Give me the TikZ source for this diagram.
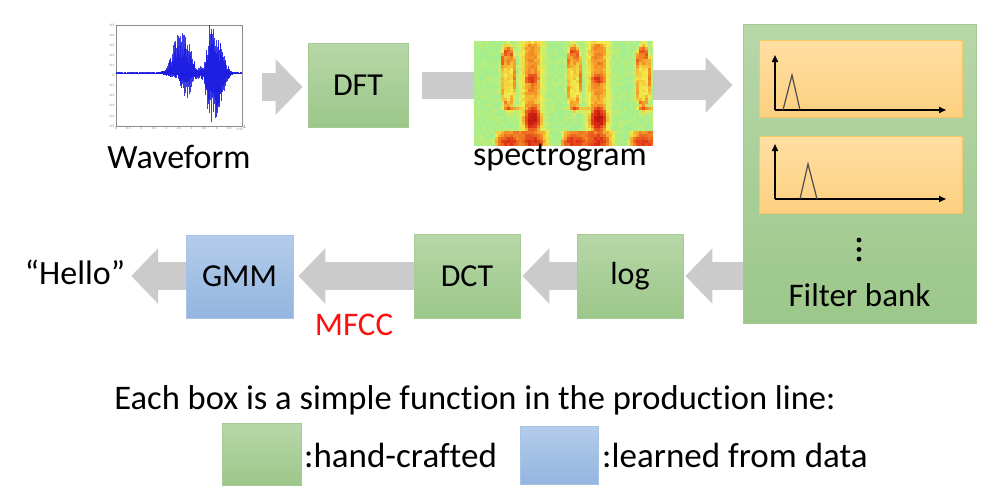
\documentclass[tikz,border=0pt]{standalone}
\usepackage{fontspec}
\setmainfont{Carlito}[Ligatures=NoCommon]
\usetikzlibrary{arrows.meta,calc}

\definecolor{boxgreenT}{HTML}{B7D7A8}
\definecolor{boxgreenB}{HTML}{9CC78A}
\definecolor{boxgreenL}{HTML}{A5CB93}
\definecolor{boxblueT}{HTML}{B4CCEA}
\definecolor{boxblueB}{HTML}{93B5DF}
\definecolor{boxblueL}{HTML}{A6C2E4}
\definecolor{orT}{HTML}{FFDEA2}
\definecolor{orB}{HTML}{FDD080}
\definecolor{orL}{HTML}{F7C766}
\definecolor{arrowgrey}{HTML}{CBCBCB}
\definecolor{wblue}{HTML}{1A1AE0}
% spectrogram colour map
\definecolor{cmA}{HTML}{A4EE8E}
\definecolor{cmB}{HTML}{F2EC4A}
\definecolor{cmC}{HTML}{F59A28}
\definecolor{cmD}{HTML}{E4401A}
\definecolor{cmE}{HTML}{BC100C}
\definecolor{mfccred}{HTML}{FF1010}

% smooth bump used for the spectral energy blobs
\pgfmathdeclarefunction{bump}{2}{%
  \begingroup\pgfmathparse{max(0,1-#1*#1-#2*#2)}\pgfmathsmuggle\pgfmathresult\endgroup}

\begin{document}
\begin{tikzpicture}[x=1pt,y=-1pt,
  lbl/.style={font=\fontsize{32}{38}\selectfont, inner sep=0pt},
  biglbl/.style={font=\fontsize{34}{40}\selectfont, inner sep=0pt},
  stage/.style={lbl, draw=boxgreenL, line width=0.8pt, top color=boxgreenT,
    bottom color=boxgreenB, minimum width=106pt, minimum height=84pt},
  learned/.style={stage, draw=boxblueL, top color=boxblueT, bottom color=boxblueB},
  filterpane/.style={draw=orL, line width=0.8pt, top color=orT, bottom color=orB,
    minimum width=203pt, minimum height=77pt, inner sep=0pt},
  barrow/.style={draw=arrowgrey, color=arrowgrey, line width=28pt,
    -{Triangle[width=54pt,length=27pt]}},
  bshaft/.style={draw=arrowgrey, line width=27pt},
  axis/.style={line width=1.6pt, -{Triangle[width=6pt,length=7pt]}},
  filt/.style={draw=black!70, line width=1.2pt, line join=miter},
  tick/.style={font=\fontsize{3.5}{4}\selectfont, text=black!55, inner sep=0.5pt}]

\useasboundingbox (0,0) rectangle (990,498);

% row heights of the block arrows
\coordinate (rowA) at (0,87);
\coordinate (rowB) at (0,85);
\coordinate (rowC) at (0,276);

% ---------- waveform plot ----------
\node[draw=black!45, line width=0.4pt, minimum width=126pt, minimum height=101pt,
      inner sep=0pt] (wave) at (179,75.5) {};
\foreach \v [count=\k from 0] in {0.5,0.4,0.3,0.2,0.1,0,-0.1,-0.2,-0.3,-0.4,-0.5}
  \node[tick, anchor=east] at (115,25+\k*10.1) {\v};
\foreach \v [count=\k from 0] in {0,0.5,1,1.5,2,2.5,3,3.5,4,4.5}
  \node[tick, anchor=north] at (116+\k*12.6,126.5) {\v};
\node[tick, anchor=north west] at (236,125) {x 10$^4$};
\pgfmathsetseed{17}
\draw[wblue, line width=0.6pt] (116,73) -- (242,73);
\foreach \i in {0,...,251}{
  \pgfmathsetmacro\xx{116+\i*0.5}
  \pgfmathsetmacro\aa{(\xx-181)/17}
  \pgfmathsetmacro\ba{max(0,1-\aa*\aa)}
  \pgfmathsetmacro\ab{(\xx-210)/(\xx<210 ? 7 : 22)}
  \pgfmathsetmacro\bb{max(0,1-\ab*\ab)}
  \pgfmathsetmacro\ac{(\xx-197)/38}
  \pgfmathsetmacro\bc{max(0,1-\ac*\ac)}
  \pgfmathsetmacro\ad{(\xx-186)/9}
  \pgfmathsetmacro\bd{max(0,1-\ad*\ad)}
  \pgfmathsetmacro\up{1+38*\ba*\ba+46*\bb*\bb+6*\bc}
  \pgfmathsetmacro\dn{1+20*\bd*\bd+47*\bb*\bb+6*\bc}
  \pgfmathsetmacro\ra{0.3+0.7*rnd}
  \pgfmathsetmacro\rb{0.3+0.7*rnd}
  \draw[wblue, line width=0.5pt, opacity=0.85] (\xx,73-\up*\ra) -- (\xx,73+\dn*\rb);
}
\node[biglbl] (wlabel) at (179,157) {Waveform};

% ---------- DFT ----------
\node[stage, minimum width=100pt] (dft) at (358,85) {DFT};
\draw[barrow, shorten <=20pt, shorten >=5pt] (wave.east |- rowA) -- (dft.west |- rowA);

% ---------- spectrogram (3 px cells, energy mapped to a colour scale) ----------
\node[inner sep=0pt, minimum width=179pt, minimum height=104pt] (spec) at (563.5,93) {};
\draw[bshaft, shorten <=14pt, shorten >=-20pt] (dft.east |- rowB) -- (spec.west |- rowB);
\begin{scope}
  \clip (spec.south west) rectangle (spec.north east);
  \pgfmathsetseed{5}
  \foreach \cx in {0,...,59}{
    \foreach \cy in {0,...,34}{
      \pgfmathsetmacro\sxp{474+\cx*3+1.5}
      \pgfmathsetmacro\ww{\cy*3+1.5}
      \pgfmathsetmacro\uu{\sxp-(\sxp<560 ? 500 : (\sxp<628 ? 566 : 635))}
      % left loop
      \pgfmathsetmacro\pp{(\uu-8)/6.5}
      \pgfmathsetmacro\qq{(\ww-36)/28}
      \pgfmathsetmacro\dd{sqrt(\pp*\pp+\qq*\qq)}
      \pgfmathsetmacro\ringv{0.55*max(0,1-abs(\dd-1)*2.8)}
      \pgfmathsetmacro\haloL{0.3*max(0,1-\dd*\dd/2.4)}
      % right column
      \pgfmathsetmacro\rr{(\uu-32)/10}
      \pgfmathsetmacro\colv{(\ww>3 ? 0.52*sqrt(max(0,1-\rr*\rr)) : 0)}
      \pgfmathsetmacro\rh{(\uu-32)/16}
      \pgfmathsetmacro\haloC{(\ww>1 ? 0.3*max(0,1-\rh*\rh) : 0)}
      % low bands
      \pgfmathsetmacro\bq{(\uu-22)/28}
      \pgfmathsetmacro\bandv{(\ww>90 ? 0.58*sqrt(max(0,1-\bq*\bq)) : 0)}
      \pgfmathsetmacro\base{max(\ringv,\haloL,\colv,\haloC,\bandv)}
      \pgfmathsetmacro\extra{0.42*bump((\uu-12)/13,(\ww-68)/3)
        +0.28*bump((\uu-8)/8,(\ww-17)/12)
        +0.26*bump((\uu-32)/9,(\ww-38)/6)
        -0.1*bump((\uu-32)/9,(\ww-58)/7)
        +0.45*bump((\uu-33)/11,(\ww-78)/13)
        +0.28*bump((\uu-5)/14,(\ww-101)/8)
        +0.26*bump((\uu-34)/12,(\ww-101)/10)}
      \pgfmathsetmacro\vv{min(0.999,max(0,0.02+\base+\extra+0.13*(rnd-0.5)))}
      \pgfmathtruncatemacro\seg{\vv*4}
      \pgfmathtruncatemacro\pc{(\vv*4-\seg)*100}
      \ifcase\seg \def\ca{cmA}\def\cb{cmB}%
      \or \def\ca{cmB}\def\cb{cmC}%
      \or \def\ca{cmC}\def\cb{cmD}%
      \else \def\ca{cmD}\def\cb{cmE}\fi
      \fill[\cb!\pc!\ca] (474+\cx*3-0.2,41+\cy*3-0.2) rectangle ++(3.4,3.4);
    }
  }
\end{scope}
\node[biglbl] (slabel) at (560,158) {spectrogram};

% ---------- filter bank ----------
\node[stage, minimum width=233pt, minimum height=299pt] (fb) at (859.5,173.5) {};
\node[filterpane] (fb1) at (860.5,79) {};
\node[filterpane] (fb2) at (860.5,174.5) {};
\draw[axis] (775,110) -- (775,55);
\draw[axis] (775,110) -- (946,110);
\draw[filt] (783,110) -- (792,75) -- (800,110);
\draw[axis] (775,199) -- (775,144);
\draw[axis] (775,199) -- (946,199);
\draw[filt] (800,199) -- (808,164) -- (817,199);
\foreach \dy in {240,249.5,259}
  \fill (859,\dy) circle (2.4);
\node[lbl, font=\fontsize{33}{39}\selectfont] (fblabel) at (859.5,295) {Filter bank};
\draw[barrow, line width=30pt, shorten >=10pt] (spec.east |- rowB) -- (fb.west |- rowB);

% ---------- lower row ----------
\node[stage] (log) at (630,276) {log};
\node[stage] (dct) at (467,276) {DCT};
\node[learned, minimum width=107pt, minimum height=83pt] (gmm) at (239.5,276.5) {GMM};
\node[biglbl] (hello) at (75,272) {“Hello”};
\node[lbl, font=\fontsize{33}{39}\selectfont, text=mfccred] (mfcc) at (354,325) {MFCC};

\draw[barrow, shorten >=2pt] (fb.west |- rowC) -- (log.east |- rowC);
\draw[barrow, shorten >=2pt] (log.west) -- (dct.east);
\draw[barrow, shorten >=5pt] (dct.west |- rowC) -- (gmm.east |- rowC);
\draw[barrow, shorten >=6pt] (gmm.west |- rowC) -- (hello.east |- rowC);

% ---------- caption and legend ----------
\node[lbl, font=\fontsize{34.5}{40}\selectfont] (caption) at (475,400)
  {Each box is a simple function in the production line:};
\node[stage, minimum width=79pt, minimum height=62pt] (keyhand) at (261.5,454) {};
\node[lbl, font=\fontsize{35}{41}\selectfont, anchor=west] (keyhandtxt) at (304,455) {:hand-crafted};
\node[learned, minimum width=78pt, minimum height=58pt] (keylearn) at (559,455.5) {};
\node[lbl, font=\fontsize{35}{41}\selectfont, anchor=west] (keylearntxt) at (602,455) {:learned from data};
\end{tikzpicture}
\end{document}
